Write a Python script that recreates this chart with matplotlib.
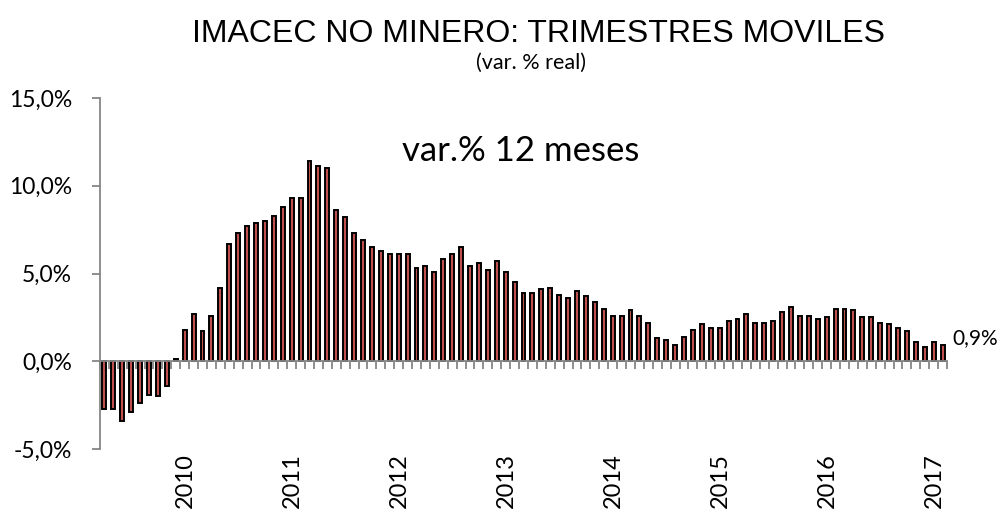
import matplotlib
matplotlib.use("Agg")
import matplotlib.pyplot as plt
import numpy as np

# Monthly moving-quarter 12-month % change, Apr-2009 .. Jan-2017
values = [
    -2.7, -2.7, -3.4, -2.9, -2.4, -1.9, -2.0, -1.4, 0.1, 1.8,
    2.7, 1.7, 2.6, 4.2, 6.7, 7.3, 7.7, 7.9, 8.0, 8.3,
    8.8, 9.3, 9.3, 11.4, 11.1, 11.0, 8.6, 8.2, 7.3, 6.9,
    6.5, 6.3, 6.1, 6.1, 6.1, 5.3, 5.4, 5.1, 5.8, 6.1,
    6.5, 5.4, 5.6, 5.2, 5.7, 5.1, 4.5, 3.9, 3.9, 4.1,
    4.2, 3.8, 3.6, 4.0, 3.7, 3.4, 3.0, 2.6, 2.6, 2.9,
    2.6, 2.2, 1.3, 1.2, 0.9, 1.4, 1.8, 2.1, 1.9, 1.9,
    2.3, 2.4, 2.7, 2.2, 2.2, 2.3, 2.8, 3.1, 2.6, 2.6,
    2.4, 2.5, 3.0, 3.0, 2.9, 2.5, 2.5, 2.2, 2.1, 1.9,
    1.7, 1.1, 0.8, 1.1, 0.9,
]
year_labels = ["2010", "2011", "2012", "2013", "2014", "2015", "2016", "2017"]
year_positions = [9, 21, 33, 45, 57, 69, 81, 93]
yticks = [-5, 0, 5, 10, 15]
ytick_labels = ["-5,0%", "0,0%", "5,0%", "10,0%", "15,0%"]
title = "IMACEC NO MINERO: TRIMESTRES MOVILES"
subtitle = "(var. % real)"
series_label = "var.% 12 meses"
last_label = "0,9%"

fig = plt.figure(figsize=(10.05, 5.21), dpi=100)
ax = fig.add_axes([100/1005, 1-449/521, 847/1005, 351/521])

x = np.arange(len(values))
ax.bar(x, values, width=0.44, color="#C0504D", edgecolor="black", linewidth=1.4, zorder=3)

ax.set_xlim(-0.5, len(values) - 0.5)
ax.set_ylim(-5, 15)

gray = "#868686"
for s in ["top", "right"]:
    ax.spines[s].set_visible(False)
ax.spines["left"].set_color(gray)
ax.spines["left"].set_linewidth(1.3)
ax.spines["bottom"].set_position(("data", 0))
ax.spines["bottom"].set_color(gray)
ax.spines["bottom"].set_linewidth(1.3)
ax.spines["bottom"].set_zorder(4)

ax.set_yticks(yticks)
ax.set_yticklabels(ytick_labels, family="Lato", fontsize=16.5, color="black")
ax.tick_params(axis="y", direction="out", length=6, width=1.3, color=gray, pad=14)

ax.set_xticks(np.arange(len(values) + 1) - 0.5)
ax.set_xticklabels([])
ax.tick_params(axis="x", direction="out", length=6, width=1.3, color=gray)

for pos, lab in zip(year_positions, year_labels):
    ax.annotate(lab, xy=(pos, -5), xytext=(0.5, -3), textcoords="offset points",
                rotation=90, ha="center", va="top", family="Lato", fontsize=17,
                annotation_clip=False)

ax.annotate(last_label, xy=(len(values) - 1, values[-1]), xytext=(7, 5),
            textcoords="offset points", ha="left", va="center",
            family="Lato", fontsize=15, annotation_clip=False)

fig.text(538/1005, 1-34/521, title, ha="center", va="center",
         family="Liberation Sans", fontsize=23)
fig.text(531/1005, 1-63/521, subtitle, ha="center", va="center",
         family="Lato", fontsize=15.5)
fig.text(521/1005, 1-151/521, series_label, ha="center",
         va="center", family="Lato", fontsize=25)

fig.savefig("out.png", dpi=100)
